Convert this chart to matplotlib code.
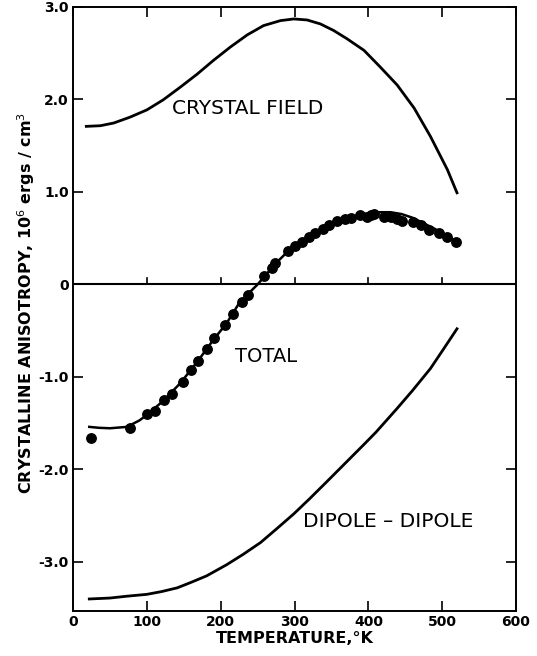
import numpy as np
import matplotlib.pyplot as plt

# crystal field contribution (smooth curve)
t_cf = [18, 37, 55, 77, 100, 122, 145, 168, 190, 213, 236, 258, 281, 299, 317, 335, 353, 371,
        394, 416, 439, 462, 484, 507, 520]
k_cf = [1.708, 1.715, 1.744, 1.807, 1.886, 1.994, 2.13, 2.272, 2.42, 2.565, 2.697, 2.797, 2.851,
        2.869, 2.858, 2.815, 2.744, 2.655, 2.53, 2.35, 2.155, 1.905, 1.60, 1.24, 0.99]

# dipole-dipole contribution
t_dd = [22, 50, 73, 100, 120, 141, 160, 181, 208, 230, 254, 276, 299, 320, 344, 364, 394, 410,
        439, 460, 484, 500, 520]
k_dd = [-3.40, -3.39, -3.37, -3.35, -3.32, -3.28, -3.22, -3.15, -3.03, -2.92, -2.79, -2.64, -2.48,
        -2.32, -2.13, -1.97, -1.73, -1.60, -1.34, -1.145, -0.91, -0.72, -0.48]

# total (calculated curve)
t_tot = [22, 35, 50, 73, 90, 100, 122, 145, 168, 190, 208, 226, 250, 263, 275, 290, 305, 321,
         340, 358, 385, 400, 416, 430, 445, 460, 475, 490, 505, 520]
k_tot = [-1.54, -1.55, -1.555, -1.54, -1.47, -1.41, -1.26, -1.07, -0.84, -0.60, -0.42, -0.19, 0.0, 0.12,
         0.23, 0.35, 0.44, 0.53, 0.61, 0.67, 0.74, 0.77, 0.78, 0.78, 0.76, 0.72, 0.66, 0.60, 0.53, 0.46]

# measured points
t_meas = [25, 77, 100, 111, 123, 134, 149, 160, 169, 182, 191, 206, 217, 229, 237, 259, 270, 274,
          291, 301, 310, 319, 328, 338, 347, 358, 369, 376, 389, 398, 403, 408, 421, 430, 439, 446,
          460, 471, 482, 496, 507, 518]
k_meas = [-1.66, -1.55, -1.40, -1.37, -1.245, -1.19, -1.05, -0.92, -0.83, -0.70, -0.58, -0.44, -0.32,
          -0.19, -0.11, 0.09, 0.18, 0.23, 0.36, 0.41, 0.46, 0.51, 0.56, 0.60, 0.64, 0.68, 0.71, 0.72,
          0.745, 0.73, 0.75, 0.76, 0.73, 0.73, 0.71, 0.69, 0.67, 0.64, 0.59, 0.555, 0.51, 0.46]

xticks = [0, 100, 200, 300, 400, 500, 600]
yticks = [-3.0, -2.0, -1.0, 0, 1.0, 2.0, 3.0]
ytick_labels = ['-3.0', '-2.0', '-1.0', '0', '1.0', '2.0', '3.0']

fig = plt.figure(figsize=(5.37, 6.56), dpi=100)
ax = fig.add_axes([0.136, 0.0686, 0.825, 0.921])

ax.plot(t_cf, k_cf, color='black', lw=2.0, solid_joinstyle='round')
ax.plot(t_dd, k_dd, color='black', lw=2.0, solid_joinstyle='round')
ax.plot(t_tot, k_tot, color='black', lw=1.8, solid_joinstyle='round')
ax.plot(t_meas, k_meas, 'o', color='black', ms=6.8, mec='black')

# zero line with its own little ticks
ax.axhline(0, color='black', lw=1.5)
for t in xticks[1:-1]:
    ax.plot([t, t], [0, 0.07], color='black', lw=1.2)

ax.set_xlim(0, 600)
ax.set_ylim(-3.53, 3.0)
ax.set_xticks(xticks)
ax.set_yticks(yticks)
ax.set_yticklabels(ytick_labels)
ax.tick_params(direction='in', top=True, right=True, length=7, width=1.2, pad=3,
               labelsize=10)
for lab in ax.get_xticklabels() + ax.get_yticklabels():
    lab.set_fontweight('bold')
for sp in ax.spines.values():
    sp.set_linewidth(1.4)

ax.text(134, 1.90, 'CRYSTAL FIELD', fontsize=14.5, va='center', ha='left')
ax.text(220, -0.78, 'TOTAL', fontsize=14, va='center', ha='left')
ax.text(312, -2.56, 'DIPOLE – DIPOLE', fontsize=14.5, va='center', ha='left')

ax.set_xlabel('TEMPERATURE,°K', fontsize=11.5, fontweight='bold', labelpad=1)
ax.set_ylabel('CRYSTALLINE ANISOTROPY, 10$^6$ ergs / cm$^3$', fontsize=11.5, fontweight='bold')
ax.yaxis.set_label_coords(-0.082, 0.51)

fig.savefig('out.png', dpi=100)
